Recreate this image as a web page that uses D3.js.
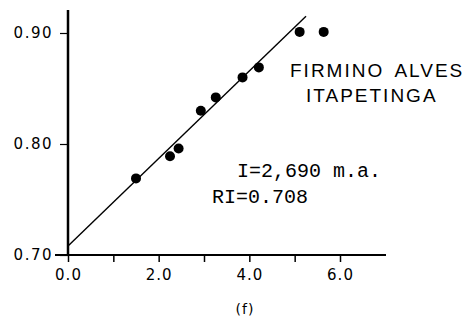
<!DOCTYPE html>
<html><head><meta charset="utf-8">
<script src="https://cdn.jsdelivr.net/npm/d3@7"></script>
<style>body{margin:0;background:#fff}svg{display:block}</style>
</head><body>
<script>
const xs = [1.50, 2.25, 2.44, 2.93, 3.26, 3.85, 4.21, 5.11, 5.64];
const ys = [0.769, 0.789, 0.796, 0.830, 0.842, 0.860, 0.869, 0.901, 0.901];
const fitX = [0.0, 5.25];
const fitY = [0.708, 0.915];
const xTicks = [0, 1, 2, 3, 4, 5, 6];
const xLabels = ["0.0", "", "2.0", "", "4.0", "", "6.0"];
const yTicks = [0.70, 0.80, 0.90];
const yLabels = ["0.70", "0.80", "0.90"];
const titleLines = ["FIRMINO ALVES", "ITAPETINGA"];
const statLines = ["I=2,690 m.a.", "RI=0.708"];
const caption = "(f)";

const W = 469, H = 324;
const svg = d3.select("body").append("svg").attr("width", W).attr("height", H);
const x = d3.scaleLinear().domain([0, 6]).range([68, 340]);
const y = d3.scaleLinear().domain([0.70, 0.90]).range([255, 33]);

// x axis
const xAxis = d3.axisBottom(x).tickValues(xTicks).tickSize(7).tickSizeOuter(0)
  .tickFormat((d, i) => xLabels[i]);
const gx = svg.append("g").attr("transform", "translate(0,255)").call(xAxis);
gx.select(".domain").remove();
gx.append("line").attr("x1", 55).attr("x2", 386).attr("y1", 0).attr("y2", 0)
  .attr("stroke", "#000").attr("stroke-width", 2);
gx.selectAll(".tick line").attr("stroke", "#000").attr("stroke-width", 1.5);
gx.selectAll(".tick text").attr("fill", "#000").attr("dy", "1.05em").attr("y", 9)
  .style("font-family", "DejaVu Sans").style("font-size", "15px").style("letter-spacing", "1px");

// y axis
const yAxis = d3.axisLeft(y).tickValues(yTicks).tickSize(8).tickSizeOuter(0)
  .tickFormat((d, i) => yLabels[i]);
const gy = svg.append("g").attr("transform", "translate(68,0)").call(yAxis);
gy.select(".domain").remove();
gy.append("line").attr("x1", 0).attr("x2", 0).attr("y1", 10).attr("y2", 256)
  .attr("stroke", "#000").attr("stroke-width", 2.5);
gy.selectAll(".tick line").attr("stroke", "#000").attr("stroke-width", 1.2);
gy.selectAll(".tick text").attr("fill", "#000").attr("x", -15)
  .style("font-family", "DejaVu Sans").style("font-size", "15px").style("letter-spacing", "1.5px");

// fit line
svg.append("line")
  .attr("x1", x(fitX[0])).attr("y1", y(fitY[0]))
  .attr("x2", x(fitX[1])).attr("y2", y(fitY[1]))
  .attr("stroke", "#000").attr("stroke-width", 1.4);

// points
svg.selectAll("circle.pt").data(xs).enter().append("circle")
  .attr("class", "pt")
  .attr("cx", d => x(d)).attr("cy", (d, i) => y(ys[i])).attr("r", 5)
  .attr("fill", "#000");

// title
svg.append("text").attr("x", 290).attr("y", 77).text(titleLines[0])
  .style("font-family", "Liberation Sans").style("font-size", "19px")
  .style("letter-spacing", "2px").style("word-spacing", "4px");
svg.append("text").attr("x", 306).attr("y", 102).text(titleLines[1])
  .style("font-family", "Liberation Sans").style("font-size", "19px").style("letter-spacing", "2px");

// stats
svg.append("text").attr("x", 237).attr("y", 177).text(statLines[0])
  .style("font-family", "Liberation Mono").style("font-size", "20px");
svg.append("text").attr("x", 212).attr("y", 203).text(statLines[1])
  .style("font-family", "Liberation Mono").style("font-size", "20px");

// caption
svg.append("text").attr("x", 245).attr("y", 314).attr("text-anchor", "middle").text(caption)
  .style("font-family", "DejaVu Sans").style("font-size", "14px").style("letter-spacing", "1px");
</script>
</body></html>
